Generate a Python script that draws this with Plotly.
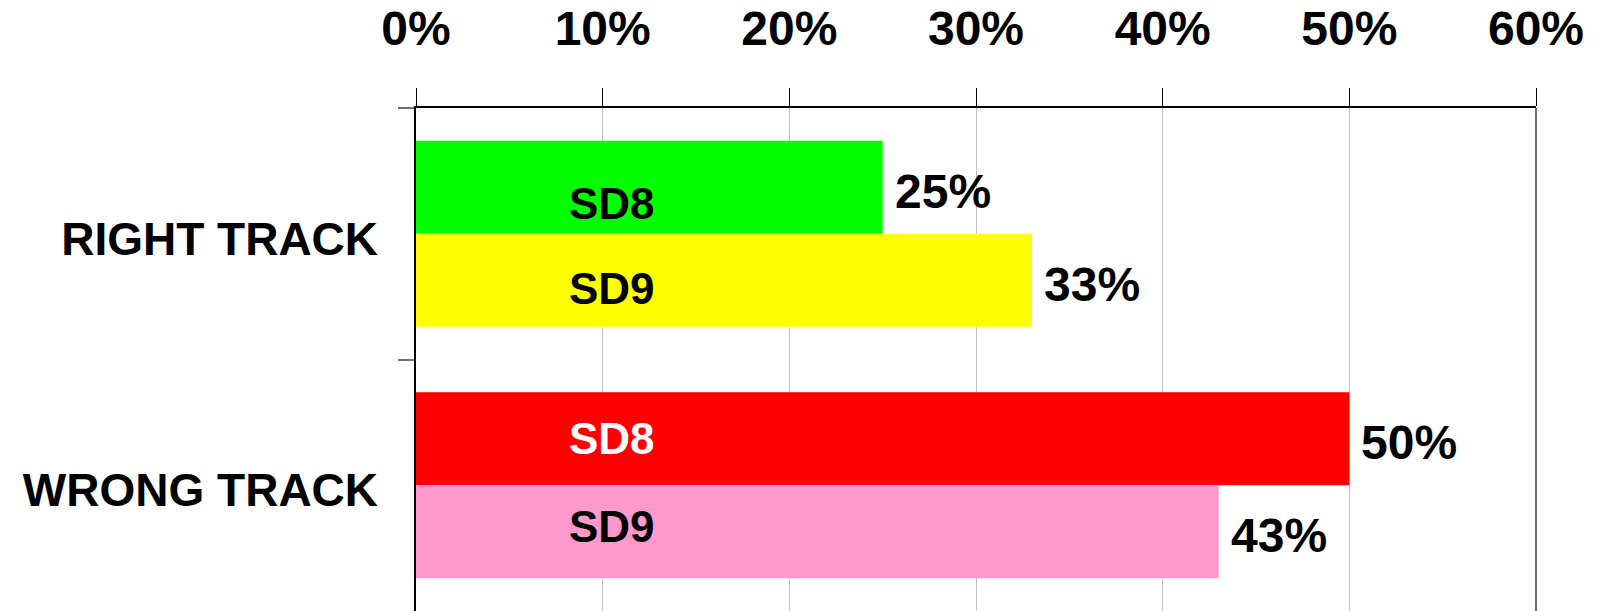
import plotly.graph_objects as go

categories = ["RIGHT TRACK", "WRONG TRACK"]
series_names = ["SD8", "SD9"]
sd8_values = [25, 50]
sd9_values = [33, 43]
sd8_colors = ["#00FF00", "#FF0000"]
sd9_colors = ["#FFFF00", "#FF99CC"]
sd8_label_colors = ["black", "white"]
sd9_label_colors = ["black", "black"]
x_ticks = [0, 10, 20, 30, 40, 50, 60]

FONT = "Liberation Sans, Arial, sans-serif"
bar_half = 46.5  # pixel offset of each bar centre from its category centre

fig = go.Figure()
for name, vals, cols in [("SD8", sd8_values, sd8_colors), ("SD9", sd9_values, sd9_colors)]:
    fig.add_trace(go.Bar(
        y=categories, x=vals, name=name, orientation="h",
        marker=dict(color=cols, line=dict(width=0)),
        hoverinfo="x+y", cliponaxis=False,
    ))

annotations = []
series = [("SD8", sd8_values, sd8_label_colors, bar_half), ("SD9", sd9_values, sd9_label_colors, -bar_half)]
label_drop = {("SD8", 0): 16, ("SD9", 0): 8, ("SD8", 1): 0, ("SD9", 1): -5}
for name, vals, lcols, off in series:
    for i, (cat, v) in enumerate(zip(categories, vals)):
        annotations.append(dict(
            x=10.5, y=cat, xref="x", yref="y", text=name, showarrow=False,
            xanchor="center", yanchor="middle", yshift=off - label_drop[(name, i)],
            font=dict(family=FONT, size=44, color=lcols[i], weight="bold"),
        ))
        annotations.append(dict(
            x=v, y=cat, xref="x", yref="y", text=f"{v}%", showarrow=False,
            xanchor="left", yanchor="middle", xshift=10, yshift=off - 4,
            font=dict(family=FONT, size=48, color="black", weight="bold"),
        ))

fig.update_layout(
    width=1597, height=611,
    margin=dict(l=416, r=61, t=108, b=0),
    paper_bgcolor="white", plot_bgcolor="white",
    barmode="group", bargap=0.26, bargroupgap=0,
    showlegend=False,
    annotations=annotations,
    shapes=[dict(type="line", xref="paper", yref="paper", x0=1, x1=1, y0=0, y1=1,
                 line=dict(color="#6e6e6e", width=2))],
    xaxis=dict(
        side="top", range=[0, 60], tickvals=x_ticks, ticktext=[f"{t}%" for t in x_ticks],
        showgrid=True, gridcolor="#c0c0c0", gridwidth=1,
        showline=True, linecolor="black", linewidth=1.5,
        ticks="outside", ticklen=18, tickcolor="black", tickwidth=1,
        tickfont=dict(family=FONT, size=48, color="black", weight="bold"),
        ticklabelstandoff=24, zeroline=False, automargin=False,
    ),
    yaxis=dict(
        range=[1.5, -0.5], type="category",
        showgrid=False, showline=True, linecolor="black", linewidth=1.5,
        ticks="outside", tickson="boundaries", ticklen=16, tickcolor="#707070", tickwidth=1.5,
        tickfont=dict(family=FONT, size=46, color="black", weight="bold"),
        ticklabelstandoff=27, ticklabelshift=-5, automargin=False,
    ),
)

fig.write_html(
    "out.html",
    config={"displayModeBar": False},
    post_script="document.body.style.margin='0';document.body.style.overflow='hidden';",
)
